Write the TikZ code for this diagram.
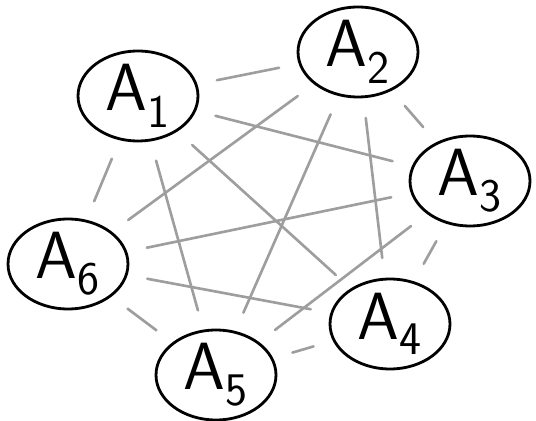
\documentclass[tikz,border=0pt]{standalone}
\usepackage{amsmath}
\usepackage{tikz}
\usetikzlibrary{arrows, arrows.meta, shapes.geometric}
\tikzset{vertex/.style = {shape = ellipse, draw, line width = 1.6pt, minimum width = 2.4cm, minimum height = 1.8cm, inner sep = 0pt, font = \sffamily\fontsize{38}{42}\selectfont}}
\tikzset{edge/.style = {-, draw = black!38, line width = 1.5pt, line cap = round, shorten < = 0.4cm, shorten > = 0.4cm}}

\begin{document}
\begin{tikzpicture}[x = 0.02cm, y = -0.02cm]
			\useasboundingbox (0, 0) rectangle (536, 421);
			\node[vertex] (a1) at (138, 96) {A\textsubscript{1}};
			\node[vertex] (a2) at (358, 52) {A\textsubscript{2}};
			\node[vertex] (a3) at (470, 181) {A\textsubscript{3}};
			\node[vertex] (a4) at (390, 324) {A\textsubscript{4}};
			\node[vertex] (a5) at (216, 375) {A\textsubscript{5}};
			\node[vertex] (a6) at (68, 264) {A\textsubscript{6}};

			\draw[edge] (a1) to (a2);
			\draw[edge] (a1) to (a3);
			\draw[edge] (a1) to (a4);
			\draw[edge] (a1) to (a5);
			\draw[edge] (a1) to (a6);
			\draw[edge] (a2) to (a3);
			\draw[edge] (a2) to (a4);
			\draw[edge] (a2) to (a5);
			\draw[edge] (a2) to (a6);
			\draw[edge] (a3) to (a4);
			\draw[edge] (a3) to (a5);
			\draw[edge] (a3) to (a6);
			\draw[edge] (a4) to (a5);
			\draw[edge] (a4) to (a6);
			\draw[edge] (a5) to (a6);
		\end{tikzpicture}
\end{document}
